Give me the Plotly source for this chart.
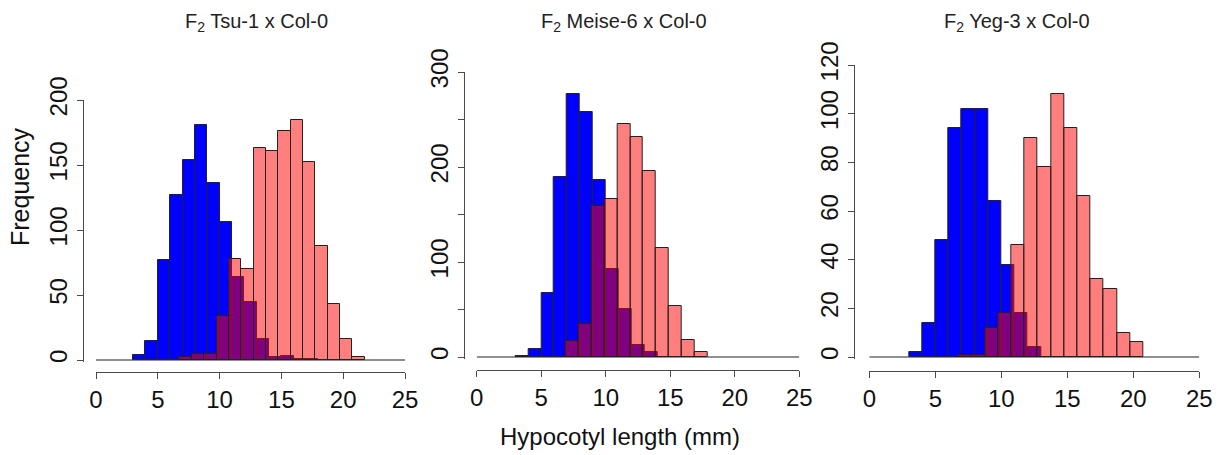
import plotly.graph_objects as go

# ---------------- data ----------------
x_ticks = [0, 5, 10, 15, 20, 25]

titles = ["F<sub>2</sub> Tsu-1 x Col-0", "F<sub>2</sub> Meise-6 x Col-0", "F<sub>2</sub> Yeg-3 x Col-0"]
x_title = "Hypocotyl length (mm)"
y_title = "Frequency"

# Tsu-1 panel
tsu_blue_x = [3.5, 4.5, 5.5, 6.5, 7.5, 8.5, 9.5, 10.5, 11.5, 12.5, 13.5, 14.5, 15.5, 16.5, 17.5]
tsu_blue_y = [4, 15, 77, 127, 154, 181, 136, 106, 64, 45, 16, 2, 3, 1, 1]
tsu_red_x = [7.25, 8.25, 9.25, 10.25, 11.25, 12.25, 13.25, 14.25, 15.25, 16.25, 17.25, 18.25, 19.25, 20.25, 21.25]
tsu_red_y = [2, 5, 5, 34, 78, 70, 163, 161, 176, 185, 152, 88, 43, 16, 2]

# Meise-6 panel
mei_blue_x = [3.5, 4.5, 5.5, 6.5, 7.5, 8.5, 9.5, 10.5, 11.5, 12.5, 13.5]
mei_blue_y = [1, 8, 67, 190, 277, 258, 186, 93, 51, 13, 5]
mei_red_x = [7.4, 8.4, 9.4, 10.4, 11.4, 12.4, 13.4, 14.4, 15.4, 16.4, 17.4]
mei_red_y = [17, 35, 159, 166, 245, 232, 196, 115, 54, 18, 5]

# Yeg-3 panel
yeg_blue_x = [3.5, 4.5, 5.5, 6.5, 7.5, 8.5, 9.5, 10.5, 11.5, 12.5]
yeg_blue_y = [2, 14, 48, 94, 102, 102, 64, 38, 18, 4]
yeg_red_x = [7.25, 8.25, 9.25, 10.25, 11.25, 12.25, 13.25, 14.25, 15.25, 16.25, 17.25, 18.25, 19.25, 20.25]
yeg_red_y = [1, 1, 12, 18, 46, 90, 78, 108, 94, 66, 32, 28, 10, 6]

y_ticks = [[0, 50, 100, 150, 200],
           [0, 100, 200, 300],
           [0, 20, 40, 60, 80, 100, 120]]
y_minor_step = [None, 50, None]
y_max = [200, 300, 120]

series = [(tsu_blue_x, tsu_blue_y, tsu_red_x, tsu_red_y),
          (mei_blue_x, mei_blue_y, mei_red_x, mei_red_y),
          (yeg_blue_x, yeg_blue_y, yeg_red_x, yeg_red_y)]

# ---------------- layout geometry (pixels) ----------------
W, H = 1228, 455
geom = [
    dict(x0=96, x1=405, y0=360, ytop=100, yax=83, xax=372, tx=256),
    dict(x0=476.7, x1=799.3, y0=357, ytop=72, yax=464, xax=370, tx=624),
    dict(x0=869.3, x1=1199.3, y0=357, ytop=65, yax=854, xax=371, tx=1017),
]

def fx(p):
    return p / W

def fy(p):
    return 1 - p / H

AX = "#4a4a4a"
FONT = "Liberation Sans, Arial, Helvetica"
TICKFONT = dict(family=FONT, size=24, color="#111")

fig = go.Figure()
layout = dict(
    width=W, height=H, autosize=False,
    margin=dict(l=0, r=0, t=0, b=0, pad=0),
    paper_bgcolor="white", plot_bgcolor="white",
    showlegend=False, barmode="overlay", bargap=0,
)
annotations = []

for i, ((bx, by, rx, ry), g) in enumerate(zip(series, geom)):
    n = "" if i == 0 else str(i + 1)
    xa, ya = "x" + n, "y" + n
    ymx = y_max[i]
    pad = 0.006
    ymin = -pad * ymx
    ybot_px = g["y0"] + (g["y0"] - g["ytop"]) * pad

    fig.add_trace(go.Bar(x=bx, y=by, width=1, xaxis=xa, yaxis=ya,
                         marker=dict(color="#0000ff", line=dict(color="#222", width=1))))
    fig.add_trace(go.Bar(x=rx, y=ry, width=1, xaxis=xa, yaxis=ya,
                         marker=dict(color="rgba(255,0,0,0.5)", line=dict(color="#222", width=1))))
    fig.add_trace(go.Scatter(x=[x_ticks[0], x_ticks[-1]], y=[0, 0], mode="lines",
                             xaxis=xa, yaxis=ya, line=dict(color="#222", width=1.2),
                             hoverinfo="skip"))

    layout["xaxis" + n] = dict(
        domain=[fx(g["x0"]), fx(g["x1"])], range=[x_ticks[0], x_ticks[-1]],
        anchor="free", position=fy(g["xax"]), automargin=False,
        tickvals=x_ticks, ticks="outside", ticklen=6, tickcolor=AX, tickwidth=1,
        showline=True, linecolor=AX, linewidth=1, showgrid=False, zeroline=False,
        tickfont=TICKFONT, fixedrange=True,
    )
    yax = dict(
        domain=[fy(ybot_px), fy(g["ytop"])], range=[ymin, ymx],
        anchor="free", position=fx(g["yax"]), automargin=False,
        tickvals=y_ticks[i], tickangle=-90,
        ticks="outside", ticklen=6, tickcolor=AX, tickwidth=1,
        showline=True, linecolor=AX, linewidth=1, showgrid=False, zeroline=False,
        tickfont=TICKFONT, fixedrange=True,
    )
    if y_minor_step[i]:
        yax["minor"] = dict(tickmode="linear", tick0=0, dtick=y_minor_step[i], ticks="outside",
                            ticklen=6, tickcolor=AX, tickwidth=1, showgrid=False)
    layout["yaxis" + n] = yax
    annotations.append(dict(text=titles[i], x=fx(g["tx"]), y=fy(22), xref="paper", yref="paper",
                            showarrow=False, xanchor="center", yanchor="middle",
                            font=dict(family=FONT, size=20, color="#222")))

annotations.append(dict(text=y_title, x=fx(20), y=fy(187), xref="paper", yref="paper",
                        showarrow=False, textangle=-90, xanchor="center", yanchor="middle",
                        font=dict(family=FONT, size=25, color="#111")))
annotations.append(dict(text=x_title, x=fx(620), y=fy(436), xref="paper", yref="paper",
                        showarrow=False, xanchor="center", yanchor="middle",
                        font=dict(family=FONT, size=24, color="#111")))
layout["annotations"] = annotations
fig.update_layout(**layout)

post = """
document.body.style.margin = '0';
document.body.style.overflow = 'hidden';
"""
fig.write_html("out.html", post_script=post, config={"displayModeBar": False})
